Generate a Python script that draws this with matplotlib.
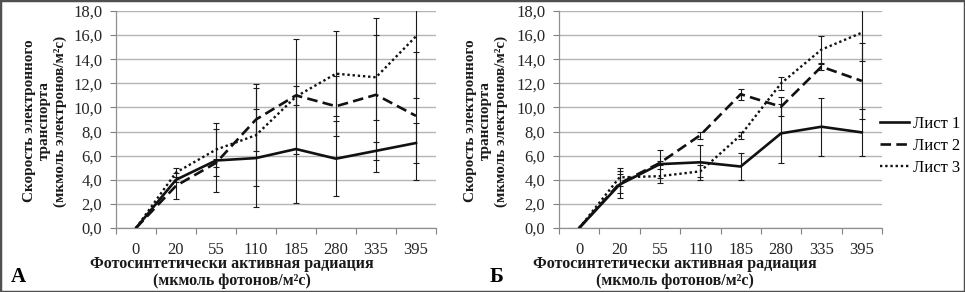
# Electron transport rate vs PAR, two panels (А, Б)
import matplotlib.pyplot as plt
from matplotlib.patches import Rectangle

plt.rcParams["font.family"] = ["Liberation Serif", "DejaVu Serif"]

categories = ["0", "20", "55", "110", "185", "280", "335", "395"]
legend_labels = ["Лист 1", "Лист 2", "Лист 3"]
y_ticks = [0, 2, 4, 6, 8, 10, 12, 14, 16, 18]

# panel А
a_leaf1 = [0, 4.0, 5.6, 5.8, 6.55, 5.75, 6.4, 7.05]
a_leaf2 = [0, 3.5, 5.4, 9.0, 11.0, 10.1, 11.05, 9.3]
a_leaf3 = [0, 4.6, 6.5, 7.7, 10.9, 12.8, 12.5, 15.9]
a_leaf1_err = [0, 0.2, 2.6, 4.05, 4.5, 3.1, 0.75, 1.65]
a_leaf2_err = [0, 1.1, 0.3, 2.65, 0.8, 2.5, 6.4, 5.3]
a_leaf3_err = [0, 0.35, 2.2, 4.25, 4.75, 3.5, 3.5, 5.15]

# panel Б
b_leaf1 = [0, 3.6, 5.3, 5.45, 5.1, 7.85, 8.4, 7.93]
b_leaf2 = [0, 3.7, 5.4, 7.7, 11.1, 10.06, 13.38, 12.2]
b_leaf3 = [0, 4.2, 4.3, 4.7, 7.7, 12.0, 14.8, 16.2]
b_leaf1_err = [0, 1.15, 1.15, 1.43, 1.15, 2.45, 2.4, 1.93]
b_leaf2_err = [0, 0.8, 0.15, 0.3, 0.45, 0.8, 0.25, 3.15]
b_leaf3_err = [0, 0.75, 0.6, 0.5, 0.3, 0.55, 1.1, 2.35]

W, H = 965, 292
fig = plt.figure(figsize=(W / 100, H / 100), dpi=100)

ax1 = fig.add_axes([116 / W, 1 - 228 / H, 320 / W, 217 / H])
ax2 = fig.add_axes([559 / W, 1 - 228 / H, 323 / W, 217 / H])

styles = [
    dict(linestyle="-", linewidth=1.9),
    dict(linestyle=(0, (4, 2)), linewidth=1.9),
    dict(linestyle=(0, (1, 1.2)), linewidth=1.7),
]

panels = [
    (ax1, [a_leaf1, a_leaf2, a_leaf3], [a_leaf1_err, a_leaf2_err, a_leaf3_err]),
    (ax2, [b_leaf1, b_leaf2, b_leaf3], [b_leaf1_err, b_leaf2_err, b_leaf3_err]),
]

x = list(range(len(categories)))

for ax, series, errors in panels:
    for vals, errs, st, lab in zip(series, errors, styles, legend_labels):
        ax.errorbar(x[1:], vals[1:], yerr=errs[1:], fmt="none",
                    ecolor="#1a1a1a", elinewidth=0.8, capsize=2.2,
                    capthick=0.8, zorder=2)
        ax.plot(x, vals, color="#111111", label=lab, zorder=3, **st)

    ax.set_xlim(-0.5, 7.5)
    ax.set_ylim(0, 18)
    ax.set_yticks(y_ticks)
    ax.set_yticklabels([f"{v:.1f}".replace(".", ",") for v in y_ticks])
    ax.set_xticks(x)
    ax.set_xticklabels(categories)
    ax.set_xticks([i - 0.5 for i in range(len(categories) + 1)], minor=True)
    ax.tick_params(axis="x", which="major", length=0, pad=10,
                   labelsize=12, labelcolor="#262626")
    ax.tick_params(axis="x", which="minor", length=4, width=0.8,
                   color="#808080")
    ax.tick_params(axis="y", length=4, width=0.8, color="#808080", pad=6,
                   labelsize=12, labelcolor="#262626")
    ax.grid(axis="y", color="#b4b4b4", linewidth=1.0)
    ax.set_axisbelow(True)
    for side in ["top", "right"]:
        ax.spines[side].set_visible(False)
    for side in ["left", "bottom"]:
        ax.spines[side].set_color("#909090")
        ax.spines[side].set_linewidth(0.9)

ylabel = "Скорость электронного\nтранспорта\n(мкмоль электронов/м²с)"
fig.text(45 / W, 1 - 121 / H, ylabel, rotation=90, ha="center", va="center",
         fontsize=11, fontweight="bold", linespacing=1.2, color="#1a1a1a")
fig.text(486 / W, 1 - 121 / H, ylabel, rotation=90, ha="center", va="center",
         fontsize=11, fontweight="bold", linespacing=1.2, color="#1a1a1a")

xlabel_top = "Фотосинтетически активная радиация"
xlabel_bottom = "(мкмоль фотонов/м²с)"
for cx in [232, 675]:
    fig.text(cx / W, 1 - 264 / H, xlabel_top, ha="center", va="center",
             fontsize=11.5, fontweight="bold", color="#1a1a1a")
    fig.text(cx / W, 1 - 281 / H, xlabel_bottom, ha="center", va="center",
             fontsize=11.5, fontweight="bold", color="#1a1a1a")

fig.text(18 / W, 1 - 277 / H, "А", ha="center", va="center",
         fontsize=15, fontweight="bold")
fig.text(497 / W, 1 - 277 / H, "Б", ha="center", va="center",
         fontsize=15, fontweight="bold")

ax2.legend(loc="center left", bbox_to_anchor=(880 / W, 1 - 146 / H),
           bbox_transform=fig.transFigure, frameon=False, fontsize=12,
           handlelength=1.75, handletextpad=0.25, labelspacing=0.35,
           borderpad=0, borderaxespad=0)

fig.patches.append(Rectangle((0, 0), 1, 1, transform=fig.transFigure,
                             fill=False, edgecolor="#505050", linewidth=2.5))

plt.savefig("out.png", dpi=100)
